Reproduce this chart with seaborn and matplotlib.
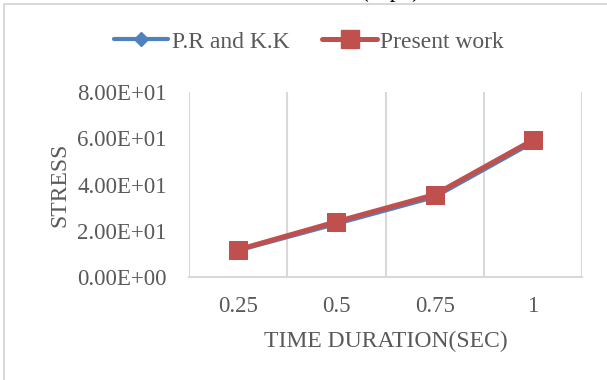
import matplotlib
matplotlib.use("Agg")
import matplotlib.pyplot as plt
import seaborn as sns
import pandas as pd
from matplotlib.patches import Rectangle
from matplotlib.lines import Line2D

categories = ["0.25", "0.5", "0.75", "1"]
pr_kk = [11.5, 23.0, 34.6, 58.2]
present_work = [11.8, 23.9, 35.6, 59.2]
yticks = [0, 20, 40, 60, 80]
ytick_labels = ["0.00E+00", "2.00E+01", "4.00E+01", "6.00E+01", "8.00E+01"]

sns.set_theme(style="white")
plt.rcParams["font.family"] = ["Liberation Serif", "DejaVu Serif"]
TXT = "#595959"
GRID = "#d9d9d9"
BLUE = "#4f81bd"
RED = "#c0504d"

W, H = 607, 380
fig = plt.figure(figsize=(W / 100, H / 100), dpi=100)
ax = fig.add_axes([189 / W, 1 - 277 / H, 393 / W, 185 / H])

pos = list(range(len(categories)))
df = pd.DataFrame({
    "pos": pos * 2,
    "value": pr_kk + present_work,
    "series": ["P.R and K.K"] * len(pos) + ["Present work"] * len(pos),
})

sns.lineplot(data=df[df.series == "P.R and K.K"], x="pos", y="value", ax=ax,
             color=BLUE, linewidth=3.0, marker="D", markersize=7,
             markeredgecolor=BLUE, legend=False)
sns.lineplot(data=df[df.series == "Present work"], x="pos", y="value", ax=ax,
             color=RED, linewidth=3.6, marker="s", markersize=13,
             markeredgecolor=RED, legend=False)

ax.set_xlim(-0.5, len(categories) - 0.5)
ax.set_ylim(0, 80)
ax.set_xticks(pos)
ax.set_xticklabels(categories)
ax.set_yticks(yticks)
ax.set_yticklabels(ytick_labels)
for b in [p - 0.5 for p in pos] + [len(pos) - 0.5]:
    ax.axvline(b, color=GRID, linewidth=1.5, zorder=0)
for s in ["left", "right", "top"]:
    ax.spines[s].set_visible(False)
ax.spines["bottom"].set_color(GRID)
ax.spines["bottom"].set_linewidth(1.5)
ax.tick_params(axis="both", length=0, colors=TXT, labelsize=16.5)
ax.tick_params(axis="x", pad=14)
ax.tick_params(axis="y", pad=16)
ax.set_xlabel("TIME DURATION(SEC)", fontsize=17, color=TXT, labelpad=10)
ax.set_ylabel("STRESS", fontsize=17, color=TXT, labelpad=5)

handles = [
    Line2D([], [], color=BLUE, linewidth=3.0, marker="D", markersize=7),
    Line2D([], [], color=RED, linewidth=3.6, marker="s", markersize=13),
]
fig.legend(handles, ["P.R and K.K", "Present work"], loc="center",
           bbox_to_anchor=(309 / W, 1 - 42 / H), ncol=2, frameon=False,
           fontsize=17, handlelength=2.3, handletextpad=0.15,
           columnspacing=1.4, labelcolor=TXT)

fig.text(390 / W, 1 + 3 / H, "(Mpa)", ha="center", va="baseline",
         fontsize=17, color="black")

fig.add_artist(Rectangle((4 / W, -0.1), 1.2, 1 - 4 / H + 0.1,
                         transform=fig.transFigure, fill=False,
                         edgecolor=GRID, linewidth=1.5))

fig.savefig("out.png", dpi=100)
